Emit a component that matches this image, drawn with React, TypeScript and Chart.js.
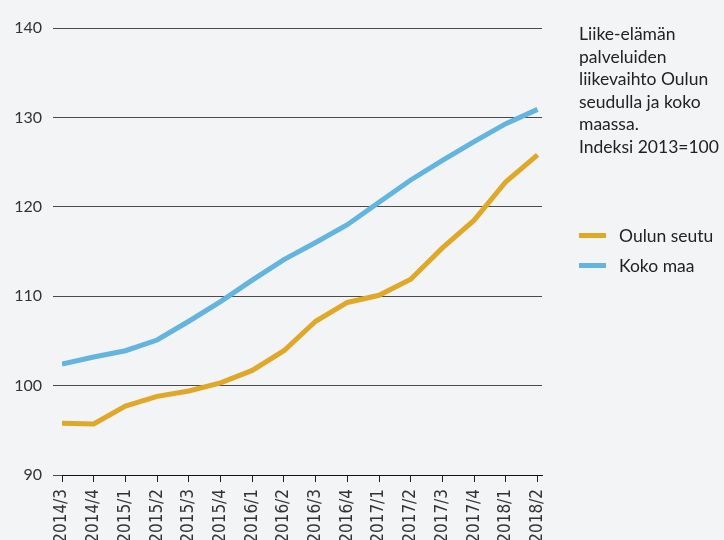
import React, { useEffect, useRef } from "react";
import { Chart, registerables } from "chart.js";

Chart.register(...registerables);

const categories = [
  "2014/3", "2014/4", "2015/1", "2015/2", "2015/3", "2015/4", "2016/1", "2016/2",
  "2016/3", "2016/4", "2017/1", "2017/2", "2017/3", "2017/4", "2018/1", "2018/2",
];
const oulunSeutu = [95.8, 95.7, 97.7, 98.8, 99.4, 100.3, 101.7, 103.9, 107.2, 109.3, 110.1, 111.9, 115.4, 118.5, 122.8, 125.8];
const kokoMaa = [102.4, 103.2, 103.9, 105.1, 107.2, 109.4, 111.8, 114.1, 116.0, 118.0, 120.5, 123.0, 125.2, 127.3, 129.3, 130.9];
const yTicks = [90, 100, 110, 120, 130, 140];
const titleLines = ["Liike-elämän", "palveluiden", "liikevaihto Oulun", "seudulla ja koko", "maassa.", "Indeksi 2013=100"];
const seriesNames = ["Oulun seutu", "Koko maa"];
const colors = ["#e0a829", "#63b4df"];

const BG = "#f3f4f6";
const FONT = "Lato, 'Open Sans', sans-serif";

export default function App() {
  const canvasRef = useRef<HTMLCanvasElement | null>(null);

  useEffect(() => {
    if (!canvasRef.current) return;
    const toXY = (arr: number[]) => arr.map((v, i) => ({ x: i, y: v }));
    const chart = new Chart(canvasRef.current, {
      type: "line",
      data: {
        datasets: [
          {
            label: seriesNames[0],
            data: toXY(oulunSeutu),
            borderColor: colors[0],
            backgroundColor: colors[0],
            borderWidth: 5,
            pointRadius: 0,
            tension: 0,
            borderCapStyle: "butt",
          },
          {
            label: seriesNames[1],
            data: toXY(kokoMaa),
            borderColor: colors[1],
            backgroundColor: colors[1],
            borderWidth: 5,
            pointRadius: 0,
            tension: 0,
            borderCapStyle: "butt",
          },
        ],
      },
      options: {
        animation: false,
        responsive: false,
        maintainAspectRatio: false,
        layout: { padding: { top: 28, right: 182, bottom: 0, left: 0 } },
        plugins: { legend: { display: false }, title: { display: false }, tooltip: { enabled: false } },
        scales: {
          x: {
            type: "linear",
            min: 0,
            max: 15.14,
            afterFit: (s: any) => {
              s.height = 65;
            },
            afterBuildTicks: (s: any) => {
              s.ticks = categories.map((_, i) => ({ value: i }));
            },
            ticks: {
              autoSkip: false,
              maxRotation: 90,
              minRotation: 90,
              padding: 7,
              color: "#333",
              font: { family: "'Liberation Sans Narrow', 'DejaVu Sans Condensed', 'Roboto', sans-serif", size: 17 },
              callback: (v: any) => categories[Number(v)] ?? "",
            },
            grid: { drawOnChartArea: false, drawTicks: true, tickLength: 7, color: "#222", lineWidth: 1 },
            border: { display: true, color: "#111", width: 1 },
          },
          y: {
            min: 90,
            max: 140,
            afterFit: (s: any) => {
              s.width = 62;
            },
            afterBuildTicks: (s: any) => {
              s.ticks = yTicks.map((v) => ({ value: v }));
            },
            ticks: {
              padding: 11,
              color: "#333",
              font: { family: FONT, size: 16 },
              callback: (v: any) => String(v),
            },
            grid: { color: "#4a4a4a", lineWidth: 1, tickLength: 9, drawTicks: true },
            border: { display: false },
          },
        },
      },
    });
    return () => chart.destroy();
  }, []);

  return (
    <div style={{ position: "absolute", left: 0, top: 0, width: 724, height: 540, background: BG, overflow: "hidden" }}>
      <canvas ref={canvasRef} width={724} height={540} style={{ position: "absolute", left: 0, top: 0, width: 724, height: 540 }} />
      <div
        style={{
          position: "absolute",
          left: 579,
          top: 23,
          fontFamily: FONT,
          fontSize: 17.5,
          lineHeight: "22.5px",
          color: "#222",
          whiteSpace: "nowrap",
        }}
      >
        {titleLines.map((t, i) => (
          <div key={i}>{t}</div>
        ))}
      </div>
      <div style={{ position: "absolute", left: 579, top: 221, fontFamily: FONT, fontSize: 17.5, color: "#222" }}>
        {seriesNames.map((n, i) => (
          <div key={i} style={{ display: "flex", alignItems: "center", height: 29.5 }}>
            <div style={{ width: 27, height: 5, background: colors[i], marginRight: 13 }} />
            <span>{n}</span>
          </div>
        ))}
      </div>
    </div>
  );
}
